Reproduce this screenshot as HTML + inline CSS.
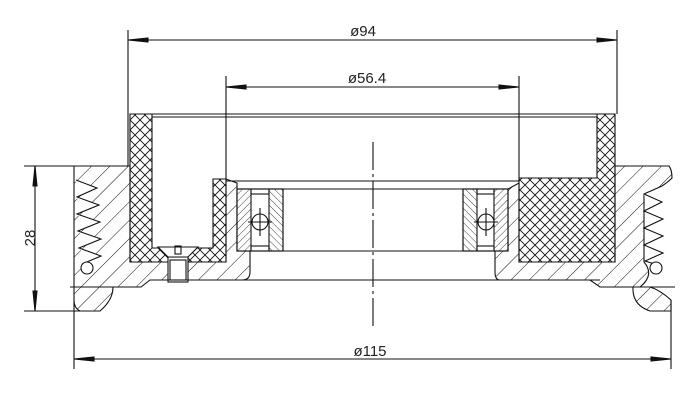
<!DOCTYPE html>
<html><head><meta charset="utf-8"><style>
html,body{margin:0;padding:0;background:#fff;width:700px;height:409px;overflow:hidden}
svg{display:block}
text{font-family:"Liberation Sans",sans-serif;font-size:15px;fill:#222}
</style></head><body>
<svg width="700" height="409" viewBox="0 0 700 409" xmlns="http://www.w3.org/2000/svg">
<defs>
<pattern id="cross" width="10" height="10" patternUnits="userSpaceOnUse">
<path d="M0,0L10,10M10,0L0,10" stroke="#111" stroke-width="0.9"/>
</pattern>
<pattern id="diag" width="13" height="13" patternUnits="userSpaceOnUse" patternTransform="rotate(45)">
<line x1="0" y1="0" x2="0" y2="13" stroke="#111" stroke-width="1"/>
</pattern>
<pattern id="bear1" width="5" height="5" patternUnits="userSpaceOnUse" patternTransform="rotate(45)">
<line x1="0" y1="0" x2="0" y2="5" stroke="#111" stroke-width="0.8"/>
</pattern>
<pattern id="bear2" width="5" height="5" patternUnits="userSpaceOnUse" patternTransform="rotate(-45)">
<line x1="0" y1="0" x2="0" y2="5" stroke="#111" stroke-width="0.8"/>
</pattern>
</defs>
<g stroke="#111" stroke-width="1.1" fill="none">
<line x1="128" y1="30" x2="128" y2="166"/>
<line x1="617" y1="30" x2="617" y2="114"/>
<line x1="128" y1="40" x2="617" y2="40"/>
<polygon points="128,40 148,38 148,42" fill="#111"/>
<polygon points="617,40 597,38 597,42" fill="#111"/>
<line x1="226" y1="76" x2="226" y2="179"/>
<line x1="519" y1="76" x2="519" y2="178"/>
<line x1="226" y1="87" x2="519" y2="87"/>
<polygon points="226,87 246,85 246,89" fill="#111"/>
<polygon points="519,87 499,85 499,89" fill="#111"/>
<line x1="74" y1="300" x2="74" y2="369"/>
<line x1="671" y1="300" x2="671" y2="369"/>
<line x1="74" y1="359" x2="671" y2="359"/>
<polygon points="74,359 94,357 94,361" fill="#111"/>
<polygon points="671,359 651,357 651,361" fill="#111"/>
<line x1="24" y1="166" x2="128" y2="166"/>
<line x1="24" y1="311" x2="100" y2="311"/>
<line x1="35" y1="166" x2="35" y2="311"/>
<polygon points="35,166 33,186 37,186" fill="#111"/>
<polygon points="35,311 33,291 37,291" fill="#111"/>
<path d="M373,142V330" stroke-dasharray="28,4,3,4"/>

<line x1="130" y1="114" x2="615" y2="114"/>
<line x1="152" y1="117" x2="597" y2="117"/>
<polygon points="130,114 152,114 152,248 213,248 213,179 226,179 226,262 130,262" fill="url(#cross)"/>
<polygon points="597,114 615,114 615,262 519,262 519,178 597,178" fill="url(#cross)"/>

<path d="M74,166 H130 V262 H226 V179 L237,183 V251 H250 V272 Q250,280 242,280 H150 L141,287 H113 Q113,300 100,311 H80 Q74,308 74,300 Z" fill="url(#diag)"/>
<path d="M76,180 L97,188 L77,197 L99,205 L77,214 L100,222 L78,231 L101,239 L79,248 L101,256 L82,264" fill="#fff"/>
<line x1="70" y1="287" x2="141" y2="287"/>
<circle cx="87" cy="268" r="6" fill="#fff"/>
<rect x="168" y="257" width="20" height="25" fill="#fff"/>
<rect x="170" y="260" width="16" height="20"/>
<path d="M158,247 L198,247 L188,257 L168,257 Z" fill="#fff"/>
<rect x="175" y="246" width="6" height="8"/>

<path d="M508,189 L519,183 V262 H615 V166 H669 Q672,170 672,178 Q668,182 662,186 L644,194 V262 Q655,275 640,287 H600 L590,280 H500 Q495,280 495,272 V251 H508 Z" fill="url(#diag)"/>
<path d="M644,194 L662,202 L644,211 L663,219 L644,228 L663,236 L644,245 L663,253 L645,261 L658,265" fill="#fff"/>
<line x1="600" y1="287" x2="675" y2="287"/>
<path d="M633,287 Q632,305 650,311 H671 V300 Q660,290 650,287 Z" fill="url(#diag)"/>
<circle cx="656" cy="268" r="6" fill="#fff"/>

<line x1="226" y1="181" x2="519" y2="181"/>
<line x1="237" y1="189" x2="508" y2="189"/>
<line x1="237" y1="251" x2="508" y2="251"/>
<line x1="150" y1="280" x2="600" y2="280"/>

<g>
<rect x="237" y="189" width="46" height="62" fill="#fff"/>
<rect x="237" y="189" width="14" height="62" fill="url(#bear1)"/>
<rect x="269" y="189" width="14" height="62" fill="url(#bear2)"/>
<rect x="251" y="189" width="18" height="5"/>
<rect x="251" y="246" width="18" height="5"/>
<circle cx="260" cy="222" r="8" fill="#fff"/>
<line x1="248" y1="222" x2="272" y2="222"/><line x1="260" y1="208" x2="260" y2="236"/>
</g>
<g>
<rect x="463" y="189" width="45" height="62" fill="#fff"/>
<rect x="463" y="189" width="14" height="62" fill="url(#bear2)"/>
<rect x="494" y="189" width="14" height="62" fill="url(#bear1)"/>
<rect x="477" y="189" width="17" height="5"/>
<rect x="477" y="246" width="17" height="5"/>
<circle cx="486" cy="222" r="8" fill="#fff"/>
<line x1="474" y1="222" x2="498" y2="222"/><line x1="486" y1="208" x2="486" y2="236"/>
</g>
</g>
<text x="363" y="36" text-anchor="middle">ø94</text>
<text x="367" y="83" text-anchor="middle">ø56.4</text>
<text x="370" y="356" text-anchor="middle">ø115</text>
<text x="0" y="0" transform="translate(35,238) rotate(-90)" text-anchor="middle">28</text>
</svg>
</body></html>
